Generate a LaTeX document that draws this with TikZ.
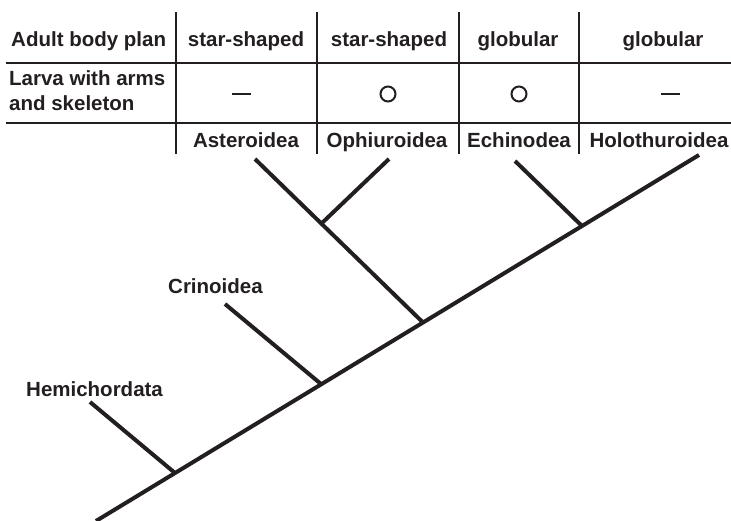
\documentclass[tikz,border=0pt]{standalone}
\usepackage{fontspec}
\setmainfont{Liberation Sans}
\definecolor{ink}{HTML}{231F20}
\begin{document}
\begin{tikzpicture}[x=1pt,y=-1pt,
  lbl/.style={inner sep=0pt,anchor=base,text=ink,font=\bfseries\fontsize{20.5}{24}\selectfont},
  lblw/.style={lbl,anchor=base west},
  rule/.style={draw=ink,line width=1.5pt},
  branch/.style={draw=ink,line width=4pt},
  symb/.style={draw=ink,line width=2pt},
  dashsym/.style={draw=ink,line width=2.6pt}]
\useasboundingbox (0,0) rectangle (731,521);
% table rules
\coordinate (h1a) at (6,63);  \coordinate (h1b) at (731,63);
\coordinate (h2a) at (6,123); \coordinate (h2b) at (731,123);
\draw[rule] (h1a) -- (h1b);
\draw[rule] (h2a) -- (h2b);
\foreach \x [count=\i] in {176,317,459,579}{
  \coordinate (vt\i) at (\x,12);
  \coordinate (vb\i) at (\x,154);
  \draw[rule] (vt\i) -- (vb\i);
}
% row headers
\node[lblw] (adult) at (11,47) {Adult body plan};
\node[lblw] (larva1) at (9,86) {Larva with arms};
\node[lblw] (larva2) at (9,111) {and skeleton};
% row 1
\node[lbl] (b1) at (246,47) {star-shaped};
\node[lbl] (b2) at (389,47) {star-shaped};
\node[lbl] (b3) at (518,47) {globular};
\node[lbl] (b4) at (663,47) {globular};
% row 2 symbols
\coordinate (d1a) at (232,94); \coordinate (d1b) at (251,94);
\draw[dashsym] (d1a) -- (d1b);
\node[symb,circle,minimum size=15pt,inner sep=0pt] (c2) at (388,94) {};
\node[symb,circle,minimum size=15pt,inner sep=0pt] (c3) at (519,94) {};
\coordinate (d4a) at (661,94); \coordinate (d4b) at (680,94);
\draw[dashsym] (d4a) -- (d4b);
% row 3 taxa
\node[lbl] (ast) at (246,148) {Asteroidea};
\node[lbl] (oph) at (387,148) {Ophiuroidea};
\node[lbl] (ech) at (519,148) {Echinodea};
\node[lbl] (hol) at (659,148) {Holothuroidea};
\node[lblw] (hem) at (26,396) {Hemichordata};
\node[lblw] (cri) at (168,294) {Crinoidea};
% tree
\coordinate (root) at (96,521);
\coordinate (tHol) at (699,155);
\coordinate (j1) at (175,473);
\coordinate (j2) at (321,384);
\coordinate (j3) at (423,322.5);
\coordinate (j4) at (582,226);
\coordinate (j5) at (322,223);
\coordinate (tHem) at (90,402);
\coordinate (tCri) at (225,304);
\coordinate (tAst) at (255,159);
\coordinate (tOph) at (389,159);
\coordinate (tEch) at (515,161);
\draw[branch] (root) -- (tHol);
\draw[branch] (tHem) -- (j1);
\draw[branch] (tCri) -- (j2);
\draw[branch] (tAst) -- (j3);
\draw[branch] (tOph) -- (j5);
\draw[branch] (tEch) -- (j4);
\end{tikzpicture}
\end{document}
